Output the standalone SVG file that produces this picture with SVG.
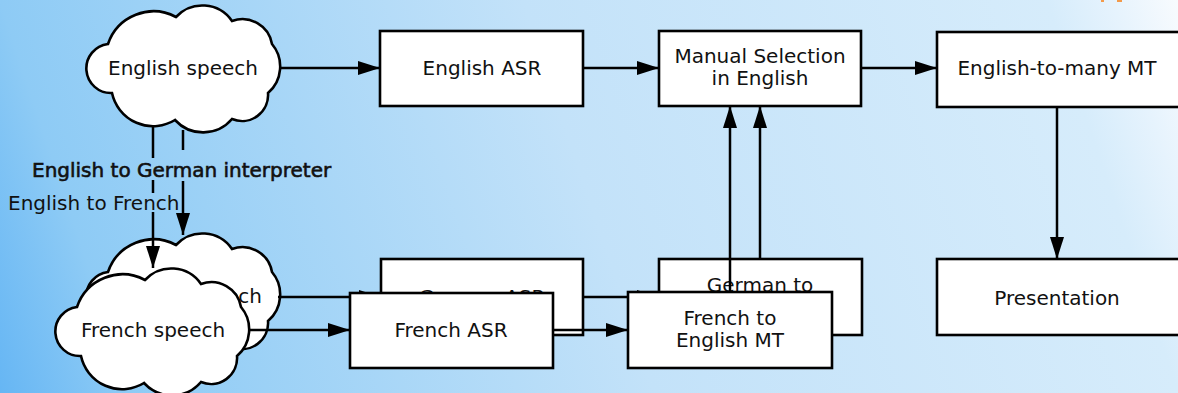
<svg xmlns="http://www.w3.org/2000/svg" width="1178" height="393" viewBox="0 0 1178 393">
  <defs>
    <linearGradient id="bg" gradientUnits="userSpaceOnUse" x1="0" y1="393" x2="1178" y2="0">
      <stop offset="0" stop-color="#66b6f4"/>
      <stop offset="0.1" stop-color="#8ecbf5"/>
      <stop offset="0.5" stop-color="#c3e2f9"/>
      <stop offset="0.9" stop-color="#d6ecfb"/>
      <stop offset="0.95" stop-color="#e6f3fd"/>
      <stop offset="1" stop-color="#f8fbfe"/>
    </linearGradient>
    <marker id="arrow" markerUnits="userSpaceOnUse" markerWidth="24" markerHeight="16" refX="23" refY="8" orient="auto">
      <path d="M1,1 L23,8 L1,15 z" fill="#000"/>
    </marker>
    <!-- cloud outline, drawn at the English speech position -->
    <path id="cloud" d="M112,93 A24.6,24.6 0 0 1 108,44 A48,48 0 0 1 176,17 A36,36 0 0 1 232,21 A30,30 0 0 1 272,44 A35,35 0 0 1 268,93 A26,26 0 0 1 232,119 A38,38 0 0 1 175,120 A42,42 0 0 1 112,93 Z"/>
  </defs>
  <style>
    .box { fill: #fff; stroke: #000; stroke-width: 2.6; }
    .cloud { fill: #fff; stroke: #000; stroke-width: 2.6; }
    .lbl { font-family: "DejaVu Sans", "Liberation Sans", sans-serif; font-size: 20px; fill: #111; text-anchor: middle; }
    .edge-lbl { font-family: "DejaVu Sans", "Liberation Sans", sans-serif; font-size: 20px; fill: #111; }
    .conn { fill: none; stroke: #000; stroke-width: 2.5; }
  </style>

  <rect x="0" y="0" width="1178" height="393" fill="url(#bg)"/>
  <rect x="1101" y="0" width="3" height="2" fill="#f39a4a"/>
  <rect x="1117" y="0" width="5" height="2" fill="#f39a4a"/>

  <!-- German branch (drawn behind) -->
  <g id="german-speech">
    <use href="#cloud" class="cloud" transform="translate(0,228)"/>
    <text class="lbl" x="183" y="303">German speech</text>
  </g>
  <g id="german-asr">
    <rect class="box" x="381" y="259" width="202" height="76"/>
    <text class="lbl" x="482" y="304">German ASR</text>
  </g>
  <g id="german-mt">
    <rect class="box" x="659" y="259" width="203" height="76"/>
    <text class="lbl" x="760" y="292">German to</text>
  </g>

  <!-- connectors -->
  <g id="connectors">
    <path class="conn" d="M278,68 H380" marker-end="url(#arrow)"/>
    <path class="conn" d="M583,68 H659" marker-end="url(#arrow)"/>
    <path class="conn" d="M861,68 H937" marker-end="url(#arrow)"/>
    <path class="conn" d="M1057,107 V259" marker-end="url(#arrow)"/>
    <!-- English speech to German speech (interpreter) -->
    <path class="conn" d="M183,130 V150"/>
    <path class="conn" d="M183,181 V235" marker-end="url(#arrow)"/>
    <!-- English speech to French speech -->
    <path class="conn" d="M153,127 V158"/>
    <path class="conn" d="M153,180 V193"/>
    <path class="conn" d="M153,212 V268" marker-end="url(#arrow)"/>
    <path class="conn" d="M278,297 H381" marker-end="url(#arrow)"/>
    <path class="conn" d="M247,330 H350" marker-end="url(#arrow)"/>
    <path class="conn" d="M583,297 H659" marker-end="url(#arrow)"/>
    <path class="conn" d="M553,330 H628" marker-end="url(#arrow)"/>
    <path class="conn" d="M760,259 V106" marker-end="url(#arrow)"/>
    <path class="conn" d="M730,292 V106" marker-end="url(#arrow)"/>
    <text class="edge-lbl" x="32" y="177" stroke="#111" stroke-width="0.6">English to German interpreter</text>
    <text class="edge-lbl" x="8" y="210">English to French</text>
  </g>

  <g id="english-speech">
    <use href="#cloud" class="cloud"/>
    <text class="lbl" x="183" y="75">English speech</text>
  </g>
  <g id="english-asr">
    <rect class="box" x="380" y="31" width="203" height="75"/>
    <text class="lbl" x="482" y="75">English ASR</text>
  </g>
  <g id="manual-selection">
    <rect class="box" x="659" y="31" width="202" height="75"/>
    <text class="lbl" x="760" y="63">Manual Selection</text>
    <text class="lbl" x="760" y="85">in English</text>
  </g>
  <g id="english-to-many-mt">
    <rect class="box" x="937" y="32" width="243" height="75"/>
    <text class="lbl" x="1057" y="75">English-to-many MT</text>
  </g>
  <g id="presentation">
    <rect class="box" x="937" y="259" width="243" height="76"/>
    <text class="lbl" x="1057" y="305">Presentation</text>
  </g>

  <!-- French branch (drawn in front) -->
  <g id="french-speech">
    <use href="#cloud" class="cloud" transform="translate(-31,263)"/>
    <text class="lbl" x="153" y="337">French speech</text>
  </g>
  <g id="french-asr">
    <rect class="box" x="350" y="293" width="203" height="75"/>
    <text class="lbl" x="451" y="337">French ASR</text>
  </g>
  <g id="french-mt">
    <rect class="box" x="628" y="292" width="204" height="76"/>
    <text class="lbl" x="730" y="325">French to</text>
    <text class="lbl" x="730" y="347">English MT</text>
  </g>
</svg>
